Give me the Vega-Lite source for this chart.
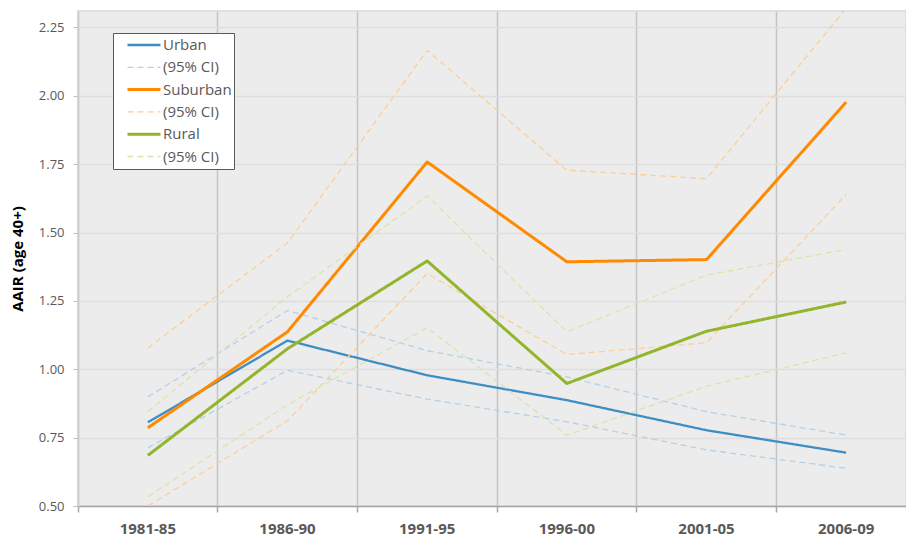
{
  "$schema": "https://vega.github.io/schema/vega-lite/v6.json",
  "width": 828,
  "height": 495,
  "autosize": {"type": "none"},
  "padding": {"left": 78, "top": 11, "right": 0, "bottom": 32},
  "background": "#ffffff",
  "config": {
    "view": {"fill": "#ECECEC", "stroke": "#D9D9D9", "strokeWidth": 1.5},
    "font": "Open Sans"
  },
  "data": {
    "values": [
      {"period": "1981-85", "series": "Urban", "bound": "main", "value": 0.806},
      {"period": "1986-90", "series": "Urban", "bound": "main", "value": 1.105},
      {"period": "1991-95", "series": "Urban", "bound": "main", "value": 0.978},
      {"period": "1996-00", "series": "Urban", "bound": "main", "value": 0.887},
      {"period": "2001-05", "series": "Urban", "bound": "main", "value": 0.777},
      {"period": "2006-09", "series": "Urban", "bound": "main", "value": 0.695},
      {"period": "1981-85", "series": "Urban CI", "bound": "upper", "value": 0.899},
      {"period": "1986-90", "series": "Urban CI", "bound": "upper", "value": 1.215},
      {"period": "1991-95", "series": "Urban CI", "bound": "upper", "value": 1.068},
      {"period": "1996-00", "series": "Urban CI", "bound": "upper", "value": 0.972},
      {"period": "2001-05", "series": "Urban CI", "bound": "upper", "value": 0.845},
      {"period": "2006-09", "series": "Urban CI", "bound": "upper", "value": 0.759},
      {"period": "1981-85", "series": "Urban CI", "bound": "lower", "value": 0.713},
      {"period": "1986-90", "series": "Urban CI", "bound": "lower", "value": 0.996},
      {"period": "1991-95", "series": "Urban CI", "bound": "lower", "value": 0.891},
      {"period": "1996-00", "series": "Urban CI", "bound": "lower", "value": 0.808},
      {"period": "2001-05", "series": "Urban CI", "bound": "lower", "value": 0.705},
      {"period": "2006-09", "series": "Urban CI", "bound": "lower", "value": 0.638},
      {"period": "1981-85", "series": "Suburban", "bound": "main", "value": 0.786},
      {"period": "1986-90", "series": "Suburban", "bound": "main", "value": 1.137},
      {"period": "1991-95", "series": "Suburban", "bound": "main", "value": 1.758},
      {"period": "1996-00", "series": "Suburban", "bound": "main", "value": 1.393},
      {"period": "2001-05", "series": "Suburban", "bound": "main", "value": 1.401},
      {"period": "2006-09", "series": "Suburban", "bound": "main", "value": 1.977},
      {"period": "1981-85", "series": "Suburban CI", "bound": "upper", "value": 1.078},
      {"period": "1986-90", "series": "Suburban CI", "bound": "upper", "value": 1.462},
      {"period": "1991-95", "series": "Suburban CI", "bound": "upper", "value": 2.166},
      {"period": "1996-00", "series": "Suburban CI", "bound": "upper", "value": 1.728},
      {"period": "2001-05", "series": "Suburban CI", "bound": "upper", "value": 1.697},
      {"period": "2006-09", "series": "Suburban CI", "bound": "upper", "value": 2.32},
      {"period": "1981-85", "series": "Suburban CI", "bound": "lower", "value": 0.5},
      {"period": "1986-90", "series": "Suburban CI", "bound": "lower", "value": 0.812},
      {"period": "1991-95", "series": "Suburban CI", "bound": "lower", "value": 1.35},
      {"period": "1996-00", "series": "Suburban CI", "bound": "lower", "value": 1.054},
      {"period": "2001-05", "series": "Suburban CI", "bound": "lower", "value": 1.097},
      {"period": "2006-09", "series": "Suburban CI", "bound": "lower", "value": 1.639},
      {"period": "1981-85", "series": "Rural", "bound": "main", "value": 0.685},
      {"period": "1986-90", "series": "Rural", "bound": "main", "value": 1.075},
      {"period": "1991-95", "series": "Rural", "bound": "main", "value": 1.396},
      {"period": "1996-00", "series": "Rural", "bound": "main", "value": 0.948},
      {"period": "2001-05", "series": "Rural", "bound": "main", "value": 1.139},
      {"period": "2006-09", "series": "Rural", "bound": "main", "value": 1.246},
      {"period": "1981-85", "series": "Rural CI", "bound": "upper", "value": 0.845},
      {"period": "1986-90", "series": "Rural CI", "bound": "upper", "value": 1.265},
      {"period": "1991-95", "series": "Rural CI", "bound": "upper", "value": 1.634},
      {"period": "1996-00", "series": "Rural CI", "bound": "upper", "value": 1.137},
      {"period": "2001-05", "series": "Rural CI", "bound": "upper", "value": 1.344},
      {"period": "2006-09", "series": "Rural CI", "bound": "upper", "value": 1.438},
      {"period": "1981-85", "series": "Rural CI", "bound": "lower", "value": 0.534},
      {"period": "1986-90", "series": "Rural CI", "bound": "lower", "value": 0.87},
      {"period": "1991-95", "series": "Rural CI", "bound": "lower", "value": 1.152},
      {"period": "1996-00", "series": "Rural CI", "bound": "lower", "value": 0.759},
      {"period": "2001-05", "series": "Rural CI", "bound": "lower", "value": 0.938},
      {"period": "2006-09", "series": "Rural CI", "bound": "lower", "value": 1.06}
    ]
  },
  "mark": {"type": "line", "clip": true, "strokeCap": "butt", "strokeJoin": "round"},
  "encoding": {
    "x": {
      "field": "period",
      "type": "ordinal",
      "sort": ["1981-85", "1986-90", "1991-95", "1996-00", "2001-05", "2006-09"],
      "bandPosition": 0.5,
      "scale": {"type": "band", "paddingInner": 0, "paddingOuter": 0, "range": [0, 838]},
      "axis": {
        "title": null,
        "bandPosition": 0,
        "labelAngle": 0,
        "labelFont": "Open Sans",
        "labelFontSize": 15,
        "labelFontWeight": "bold",
        "labelColor": "#595959",
        "labelPadding": 9,
        "grid": true,
        "gridColor": "#C4C4C4",
        "gridWidth": 1.5,
        "domainColor": "#A6A6A6",
        "domainWidth": 1.5,
        "tickColor": "#A6A6A6",
        "tickWidth": 1.5,
        "tickSize": 6
      }
    },
    "y": {
      "field": "value",
      "type": "quantitative",
      "scale": {"domain": [0.5, 2.31], "nice": false, "zero": false},
      "axis": {
        "title": "AAIR (age 40+)",
        "titleFont": "Open Sans",
        "titleFontSize": 15,
        "titleFontWeight": "bold",
        "titleColor": "#000000",
        "titlePadding": 13,
        "values": [0.5, 0.75, 1.0, 1.25, 1.5, 1.75, 2.0, 2.25],
        "format": ".2f",
        "labelFont": "Open Sans",
        "labelFontSize": 13,
        "labelColor": "#595959",
        "labelPadding": 9,
        "grid": true,
        "gridColor": "#DEDEDE",
        "gridWidth": 1.5,
        "domainColor": "#D0D0D0",
        "domainWidth": 1.5,
        "tickColor": "#BFBFBF",
        "tickSize": 5
      }
    },
    "detail": {"field": "bound"},
    "color": {
      "field": "series",
      "type": "nominal",
      "scale": {
        "domain": ["Urban", "Urban CI", "Suburban", "Suburban CI", "Rural", "Rural CI"],
        "range": ["#3E8EC4", "#B2D1E8", "#FF8A00", "#FCCF96", "#93B52B", "#D8E5AA"]
      },
      "legend": {
        "title": null,
        "orient": "none",
        "legendX": 35,
        "legendY": 22,
        "padding": 2,
        "fillColor": "#FFFFFF",
        "strokeColor": "#595959",
        "symbolType": "stroke",
        "symbolSize": 1089,
        "symbolOffset": 11,
        "labelOffset": 1,
        "clipHeight": 20,
        "rowPadding": 2.3,
        "labelFont": "Open Sans",
        "labelFontSize": 15,
        "labelColor": "#595959",
        "labelExpr": "(indexof(datum.label, 'CI') >= 0 ? '(95% CI)' : datum.label) + '\u00a0\u00a0\u00a0'"
      }
    },
    "strokeDash": {
      "field": "series",
      "type": "nominal",
      "scale": {
        "domain": ["Urban", "Urban CI", "Suburban", "Suburban CI", "Rural", "Rural CI"],
        "range": [[1, 0], [6, 4], [1, 0], [6, 4], [1, 0], [6, 4]]
      }
    },
    "strokeWidth": {
      "field": "series",
      "type": "nominal",
      "scale": {
        "type": "ordinal",
        "domain": ["Urban", "Urban CI", "Suburban", "Suburban CI", "Rural", "Rural CI"],
        "range": [2.3, 1.3, 3, 1.3, 3, 1.3]
      }
    }
  }
}
